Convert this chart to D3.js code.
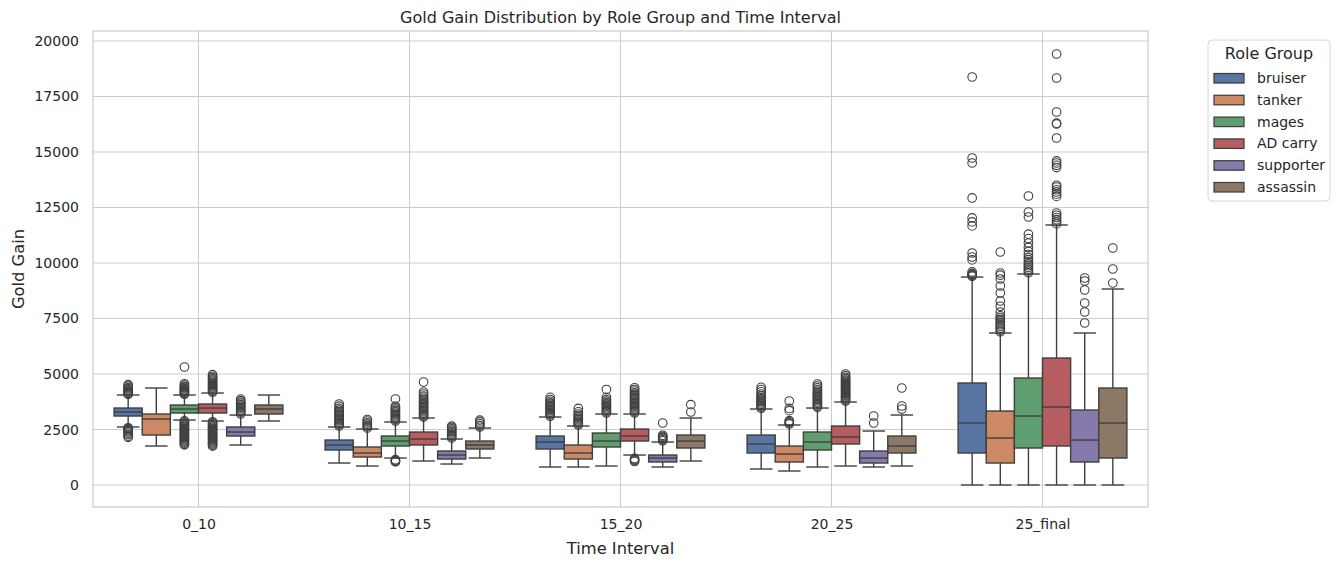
<!DOCTYPE html>
<html>
<head>
<meta charset="utf-8">
<script src="https://cdn.jsdelivr.net/npm/d3@7"></script>
<style>
  body { margin: 0; background: #fff; }
  text { font-family: "DejaVu Sans", sans-serif; fill: #262626; }
</style>
</head>
<body>
<svg id="chart" width="1344" height="568"></svg>
<script>
// categories
var intervals = ["0_10", "10_15", "15_20", "20_25", "25_final"];
var roles = ["bruiser", "tanker", "mages", "AD carry", "supporter", "assassin"];
var roleColors = ["#5975a4", "#cc8963", "#5f9e6e", "#b55d60", "#857aab", "#8d7866"];
var yTicks = [0, 2500, 5000, 7500, 10000, 12500, 15000, 17500, 20000];

// box stats per interval: [whisker low, q1, median, q3, whisker high]
var bruiserBox = [[2613, 3108, 3288, 3468, 4054], [991, 1577, 1802, 2027, 2613], [811, 1622, 1937, 2207, 3063], [721, 1441, 1847, 2252, 3423], [0, 1441, 2793, 4595, 9369]];
var tankerBox = [[1757, 2252, 2973, 3198, 4369], [856, 1261, 1441, 1712, 2522], [811, 1171, 1441, 1802, 2658], [631, 1036, 1396, 1757, 2703], [0, 991, 2117, 3333, 6847]];
var magesBox = [[2928, 3243, 3423, 3604, 4054], [1216, 1757, 1982, 2207, 2838], [856, 1712, 1982, 2342, 3198], [811, 1577, 1937, 2387, 3468], [0, 1667, 3108, 4820, 9504]];
var adcBox = [[2883, 3243, 3468, 3649, 4144], [1081, 1802, 2072, 2387, 3018], [1351, 1982, 2207, 2522, 3198], [856, 1847, 2162, 2658, 3739], [0, 1757, 3514, 5720, 11712]];
var supportBox = [[1802, 2207, 2387, 2613, 3150], [946, 1171, 1351, 1532, 2072], [811, 1036, 1216, 1351, 1937], [811, 991, 1216, 1532, 2432], [0, 1036, 2027, 3378, 6847]];
var assassinBox = [[2883, 3198, 3423, 3604, 4054], [1216, 1622, 1802, 1982, 2567], [1081, 1667, 1982, 2252, 3018], [856, 1441, 1757, 2207, 3153], [0, 1216, 2793, 4369, 8829]];

// outliers per interval
var bruiserOut = [
  [4080, 4120, 4160, 4200, 4240, 4290, 4340, 4390, 4450, 4520, 2580, 2540, 2500, 2450, 2400, 2340, 2270, 2200, 2150],
  [2650, 2710, 2770, 2830, 2890, 2950, 3010, 3070, 3130, 3190, 3250, 3310, 3370, 3450, 3550, 3650],
  [3100, 3160, 3220, 3280, 3340, 3400, 3460, 3520, 3580, 3640, 3700, 3770, 3850, 3950],
  [3460, 3520, 3580, 3640, 3700, 3760, 3820, 3880, 3950, 4020, 4100, 4200, 4300, 4400],
  [9400, 9440, 9480, 9520, 9600, 10140, 10270, 10450, 11670, 11850, 12030, 12930, 14505, 14730, 18378]
];
var tankerOut = [
  [],
  [2560, 2620, 2680, 2740, 2800, 2880, 2950],
  [2700, 2760, 2820, 2880, 2940, 3000, 3060, 3130, 3200, 3300, 3450],
  [2750, 2800, 2850, 2900, 3350, 3450, 3784],
  [6900, 6980, 7060, 7140, 7220, 7300, 7380, 7460, 7540, 7620, 7793, 8050, 8288, 8649, 8964, 9279, 9450, 9549, 10495]
];
var magesOut = [
  [4090, 4130, 4170, 4210, 4250, 4290, 4340, 4390, 4440, 4500, 4560, 5315, 2890, 2840, 2790, 2740, 2690, 2640, 2590, 2540, 2490, 2440, 2390, 2340, 2290, 2240, 2190, 2140, 2090, 2040, 1990, 1940, 1890, 1840, 1810],
  [2880, 2940, 3000, 3060, 3120, 3180, 3240, 3300, 3360, 3420, 3480, 3550, 3874, 1140, 1100, 1070, 1040],
  [3240, 3300, 3360, 3420, 3480, 3540, 3600, 3660, 3720, 3780, 3850, 3950, 4300],
  [3500, 3560, 3620, 3680, 3740, 3800, 3860, 3920, 3980, 4040, 4100, 4160, 4230, 4300, 4380, 4460, 4550],
  [9560, 9640, 9720, 9800, 9880, 9960, 10050, 10150, 10250, 10380, 10520, 10700, 10900, 11100, 11300, 12072, 12297, 13018]
];
var adcOut = [
  [4180, 4230, 4280, 4330, 4380, 4430, 4480, 4530, 4580, 4630, 4680, 4730, 4780, 4840, 4900, 4970, 2850, 2800, 2750, 2700, 2650, 2600, 2550, 2500, 2450, 2400, 2350, 2300, 2250, 2200, 2150, 2100, 2050, 2000, 1950, 1900, 1850, 1800, 1750],
  [3060, 3120, 3180, 3240, 3300, 3360, 3420, 3480, 3540, 3600, 3660, 3720, 3780, 3850, 3920, 4000, 4100, 4189, 4640],
  [3240, 3300, 3360, 3420, 3480, 3540, 3600, 3660, 3720, 3780, 3840, 3900, 3960, 4020, 4080, 4150, 4230, 4300, 4380, 1200, 1150, 1100, 1060],
  [3780, 3830, 3880, 3930, 3980, 4030, 4080, 4130, 4180, 4230, 4280, 4330, 4380, 4430, 4480, 4530, 4580, 4630, 4680, 4730, 4790, 4850, 4920, 5000],
  [11760, 11850, 11950, 12050, 12150, 12252, 13000, 13100, 13200, 13300, 13423, 13500, 14300, 14400, 14505, 14600, 15631, 16261, 16300, 16802, 18333, 19414]
];
var supportOut = [
  [3200, 3260, 3320, 3380, 3440, 3500, 3560, 3620, 3680, 3740, 3800, 3870],
  [2110, 2170, 2230, 2290, 2350, 2410, 2470, 2530, 2590, 2650],
  [1990, 2040, 2090, 2140, 2190, 2240, 2793],
  [2793, 3108],
  [7297, 7793, 8198, 8784, 9189, 9324]
];
var assassinOut = [
  [],
  [2610, 2680, 2760, 2840, 2920],
  [3288, 3620],
  [3420, 3560, 4369],
  [9099, 9729, 10675]
];

var boxes = [bruiserBox, tankerBox, magesBox, adcBox, supportBox, assassinBox];
var outs = [bruiserOut, tankerOut, magesOut, adcOut, supportOut, assassinOut];

//set up svg
var svg = d3.select("#chart");
var margin = {top: 31, right: 196, bottom: 61, left: 93};
var W = 1344, H = 568;
var lineColor = "#3f3f3f";

var x = d3.scalePoint().domain(intervals).range([margin.left, W - margin.right]).padding(0.5);
var hue = d3.scaleBand().domain(roles).range([-0.4 * x.step(), 0.4 * x.step()]);
var y = d3.scaleLinear().domain([-990, 20450]).range([H - margin.bottom, margin.top]);
var bw = hue.bandwidth();

// grid
var g = svg.append("g");
g.selectAll(".hgrid").data(yTicks).enter().append("line")
  .attr("x1", margin.left).attr("x2", W - margin.right)
  .attr("y1", function(d) { return y(d); }).attr("y2", function(d) { return y(d); })
  .attr("stroke", "#cccccc").attr("stroke-width", 1);
g.selectAll(".vgrid").data(intervals).enter().append("line")
  .attr("x1", function(d) { return x(d); }).attr("x2", function(d) { return x(d); })
  .attr("y1", margin.top).attr("y2", H - margin.bottom)
  .attr("stroke", "#cccccc").attr("stroke-width", 1);

// axes
var yAxis = d3.axisLeft(y).tickValues(yTicks).tickFormat(d3.format("d")).tickSize(0).tickPadding(14);
var ya = svg.append("g").attr("transform", "translate(" + margin.left + ",0)").call(yAxis);
var xAxis = d3.axisBottom(x).tickSize(0).tickPadding(12);
var xa = svg.append("g").attr("transform", "translate(0," + (H - margin.bottom) + ")").call(xAxis);
[ya, xa].forEach(function(a) {
  a.select(".domain").remove();
  a.selectAll("text").attr("font-size", "14px").attr("fill", "#262626").attr("font-family", "DejaVu Sans");
});

// boxes
roles.forEach(function(role, r) {
  var grp = svg.append("g").attr("class", "role");
  intervals.forEach(function(iv, i) {
    var s = boxes[r][i];
    var cx = x(iv) + hue(role) + bw / 2;
    var capW = bw * 0.4;
    // whiskers
    grp.append("line").attr("x1", cx).attr("x2", cx).attr("y1", y(s[3])).attr("y2", y(s[4]))
      .attr("stroke", lineColor).attr("stroke-width", 1.4);
    grp.append("line").attr("x1", cx).attr("x2", cx).attr("y1", y(s[1])).attr("y2", y(s[0]))
      .attr("stroke", lineColor).attr("stroke-width", 1.4);
    [s[0], s[4]].forEach(function(v) {
      grp.append("line").attr("x1", cx - capW).attr("x2", cx + capW).attr("y1", y(v)).attr("y2", y(v))
        .attr("stroke", lineColor).attr("stroke-width", 1.4);
    });
    grp.append("rect").attr("x", cx - bw / 2).attr("width", bw)
      .attr("y", y(s[3])).attr("height", y(s[1]) - y(s[3]))
      .attr("fill", roleColors[r]).attr("stroke", lineColor).attr("stroke-width", 1.4);
    grp.append("line").attr("x1", cx - bw / 2).attr("x2", cx + bw / 2).attr("y1", y(s[2])).attr("y2", y(s[2]))
      .attr("stroke", lineColor).attr("stroke-width", 1.4);
    grp.selectAll(null).data(outs[r][i]).enter().append("circle")
      .attr("cx", cx).attr("cy", function(d) { return y(d); }).attr("r", 4.3)
      .attr("fill", "none").attr("stroke", lineColor).attr("stroke-width", 1.1);
  });
});

// frame
svg.append("rect").attr("x", margin.left).attr("y", margin.top)
  .attr("width", W - margin.left - margin.right).attr("height", H - margin.top - margin.bottom)
  .attr("fill", "none").attr("stroke", "#cccccc").attr("stroke-width", 1.25);

// titles
svg.append("text").attr("x", (margin.left + W - margin.right) / 2).attr("y", 23)
  .attr("text-anchor", "middle").attr("font-size", "16px").text("Gold Gain Distribution by Role Group and Time Interval");
svg.append("text").attr("x", (margin.left + W - margin.right) / 2).attr("y", 554)
  .attr("text-anchor", "middle").attr("font-size", "16.3px").text("Time Interval");
svg.append("text").attr("transform", "translate(24," + ((margin.top + H - margin.bottom) / 2) + ") rotate(-90)")
  .attr("text-anchor", "middle").attr("font-size", "16.3px").text("Gold Gain");

// legend
var lg = svg.append("g").attr("transform", "translate(1208,40)");
lg.append("rect").attr("width", 122).attr("height", 161).attr("rx", 4)
  .attr("fill", "#fff").attr("stroke", "#d6d6d6").attr("stroke-width", 1);
lg.append("text").attr("x", 61).attr("y", 19).attr("text-anchor", "middle").attr("font-size", "16px").text("Role Group");
roles.forEach(function(role, r) {
  var yy = 38 + r * 21.8;
  lg.append("rect").attr("x", 6).attr("y", yy - 4.5).attr("width", 30).attr("height", 9.5)
    .attr("fill", roleColors[r]).attr("stroke", lineColor).attr("stroke-width", 1.25);
  lg.append("text").attr("x", 49).attr("y", yy + 5).attr("font-size", "14px").text(role);
});
</script>
</body>
</html>
